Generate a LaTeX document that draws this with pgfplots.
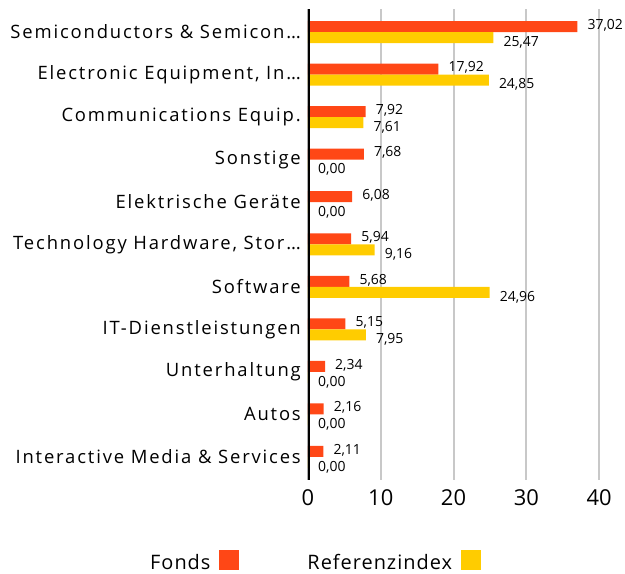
\documentclass[border=0pt]{standalone}
\usepackage{fontspec}
\setmainfont{Open Sans}
\newfontfamily\catfont[LetterSpace=10]{Open Sans}
\newfontfamily\legfont[LetterSpace=5]{Open Sans}
\usepackage{pgfplots}
\pgfplotsset{compat=1.18}
\usepackage{pgfplotstable}
\definecolor{fonds}{HTML}{FF4716}
\definecolor{ref}{HTML}{FFCC00}
\definecolor{gridc}{HTML}{C8C8C8}
\pgfplotstableread{
y fonds ref
10 37.02 25.47
9 17.92 24.85
8 7.92 7.61
7 7.68 0
6 6.08 0
5 5.94 9.16
4 5.68 24.96
3 5.15 7.95
2 2.34 0
1 2.16 0
0 2.11 0
}\datatable
\begin{document}
\begin{tikzpicture}
\begin{axis}[
  name=ax,
  xbar, scale only axis,
  width=305.6bp, height=470bp,
  xmin=0, xmax=42, ymin=-0.53, ymax=10.53,
  bar width=11bp,
  xtick={0,10,20,30,40},
  ytick={0,...,10},
  yticklabels={Interactive Media \& Services, Autos, Unterhaltung, IT-Dienstleistungen, Software, {Technology Hardware, Stor…}, Elektrische Geräte, Sonstige, Communications Equip., {Electronic Equipment, In…}, Semiconductors \& Semicon…},
  axis line style={draw=none},
  major tick length=0pt,
  xmajorgrids, grid style={gridc, line width=2bp},
  /pgf/number format/assume math mode=true,
  xticklabel style={font=\fontsize{22}{26}\selectfont, anchor=north, inner sep=0pt, yshift=-10bp},
  yticklabel style={font=\catfont\fontsize{18.5}{22}\selectfont, anchor=east, inner sep=0pt, xshift=-7bp},
  nodes near coords,
  point meta=x,
  nodes near coords style={font=\fontsize{14}{16}\selectfont, anchor=west, inner sep=0pt, xshift=10bp,
    /pgf/number format/fixed, /pgf/number format/fixed zerofill, /pgf/number format/precision=2, /pgf/number format/use comma, /pgf/number format/assume math mode=true},
  legend columns=2,
  legend plot pos=right,
  legend style={draw=none, fill=none, font=\legfont\fontsize{20}{24}\selectfont, inner sep=0pt,
    nodes={inner sep=0pt},
    at={(axis description cs:-0.517,-0.150)}, anchor=north west,
    /tikz/column 2/.style={column sep=68bp}},
]
\addplot[draw=none, fill=fonds, bar shift=5.5bp,
  every node near coord/.append style={yshift=1.5bp},
  legend image code/.code={\path[fill=none, draw=none] (0bp,-8bp) rectangle (29bp,12bp); \fill[fonds] (9bp,-8bp) rectangle (29bp,12bp);}]
  table[x=fonds, y=y] {\datatable};
\addlegendentry{Fonds}
\addplot[draw=none, fill=ref, bar shift=-5.5bp,
  every node near coord/.append style={yshift=-4.5bp},
  legend image code/.code={\path[fill=none, draw=none] (0bp,-8bp) rectangle (29bp,12bp); \fill[ref] (9bp,-8bp) rectangle (29bp,12bp);}]
  table[x=ref, y=y] {\datatable};
\addlegendentry{Referenzindex}
\draw[black, line width=4.5bp] (rel axis cs:0,0) -- (rel axis cs:0,1);
\coordinate (o) at (rel axis cs:0,0);
\end{axis}
\pgfresetboundingbox
\path (o) ++(-308bp,-94.5bp) rectangle ++(625bp,574bp);
\end{tikzpicture}
\end{document}
